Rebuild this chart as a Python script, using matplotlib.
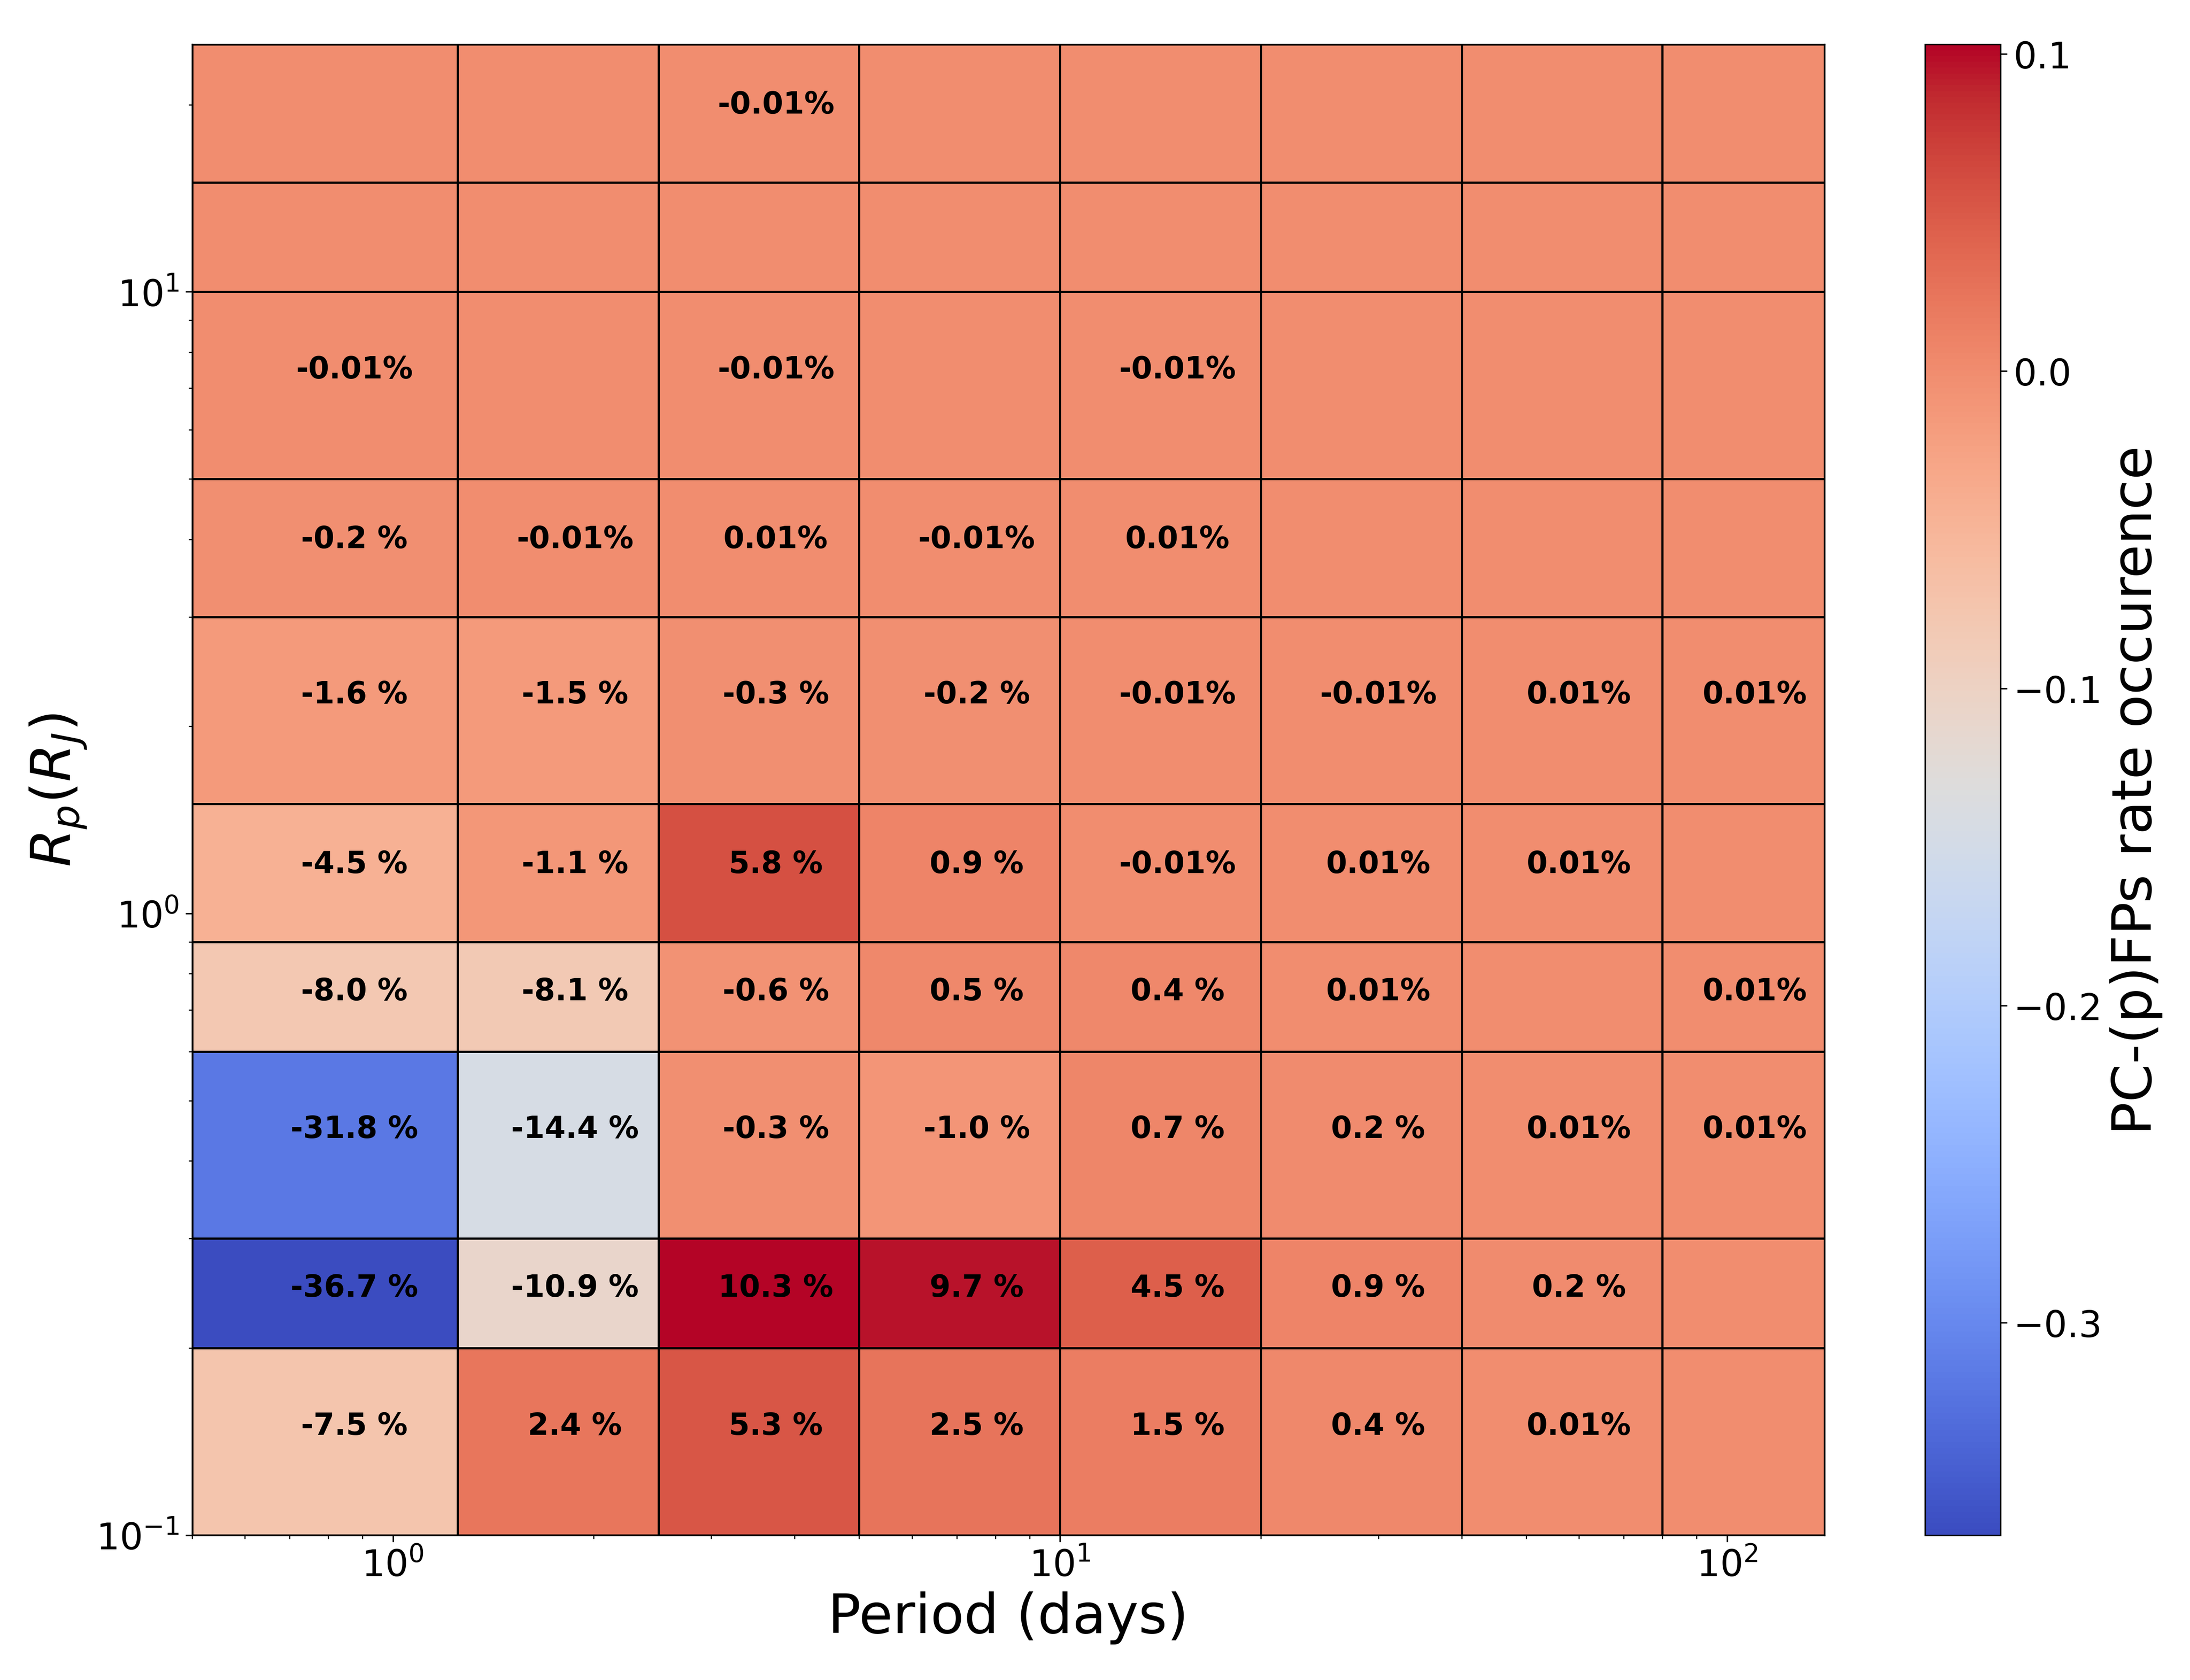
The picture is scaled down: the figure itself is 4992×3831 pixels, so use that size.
import matplotlib.pyplot as plt
import numpy as np

# bin edges
period_edges = [0.5, 1.25, 2.5, 5, 10, 20, 40, 80, 140]
radius_edges = [0.1, 0.2, 0.3, 0.6, 0.9, 1.5, 3, 5, 10, 15, 25]

# difference in occurrence rate, rows from small to large radius
diff_rate = np.array([
    [-0.075, 0.024, 0.053, 0.025, 0.015, 0.004, 0.0001, 0.0],
    [-0.367, -0.109, 0.103, 0.097, 0.045, 0.009, 0.002, 0.0],
    [-0.318, -0.144, -0.003, -0.010, 0.007, 0.002, 0.0001, 0.0001],
    [-0.080, -0.081, -0.006, 0.005, 0.004, 0.0001, 0.0, 0.0001],
    [-0.045, -0.011, 0.058, 0.009, -0.0001, 0.0001, 0.0001, 0.0],
    [-0.016, -0.015, -0.003, -0.002, -0.0001, -0.0001, 0.0001, 0.0001],
    [-0.002, -0.0001, 0.0001, -0.0001, 0.0001, 0.0, 0.0, 0.0],
    [-0.0001, 0.0, -0.0001, 0.0, -0.0001, 0.0, 0.0, 0.0],
    [0.0, 0.0, 0.0, 0.0, 0.0, 0.0, 0.0, 0.0],
    [0.0, 0.0, -0.0001, 0.0, 0.0, 0.0, 0.0, 0.0],
])


fig = plt.figure(figsize=(16.64, 12.7733))
ax = fig.add_axes([0.0877, 0.0862, 0.7454, 0.8871])
cax = fig.add_axes([0.879, 0.0862, 0.0345, 0.8871])

mesh = ax.pcolormesh(period_edges, radius_edges, diff_rate, cmap='coolwarm',
                     edgecolors='k', linewidth=1.2)
ax.set_xscale('log')
ax.set_yscale('log')
ax.set_xlim(period_edges[0], period_edges[-1])
ax.set_ylim(radius_edges[0], radius_edges[-1])

for i in range(len(radius_edges) - 1):
    for j in range(len(period_edges) - 1):
        v = diff_rate[i, j]
        if v == 0:
            continue
        if abs(v) < 0.0005:
            txt = f"{v*100:.2f}%"
        else:
            txt = f"{v*100:.1f} %"
        xc = (period_edges[j] + period_edges[j + 1]) / 2
        yc = (radius_edges[i] + radius_edges[i + 1]) / 2
        ax.text(xc, yc, txt, ha='center', va='center', fontsize=16.5,
                fontweight='bold', color='k')

ax.set_xlabel('Period (days)', fontsize=30)
ax.set_ylabel(r'$R_p(R_J)$', fontsize=30)
ax.tick_params(axis='both', which='major', labelsize=20)

cbar = fig.colorbar(mesh, cax=cax)
cbar.set_label('PC-(p)FPs rate occurence', fontsize=30)
cbar.ax.tick_params(labelsize=20)

plt.savefig('out.png', dpi=300)
